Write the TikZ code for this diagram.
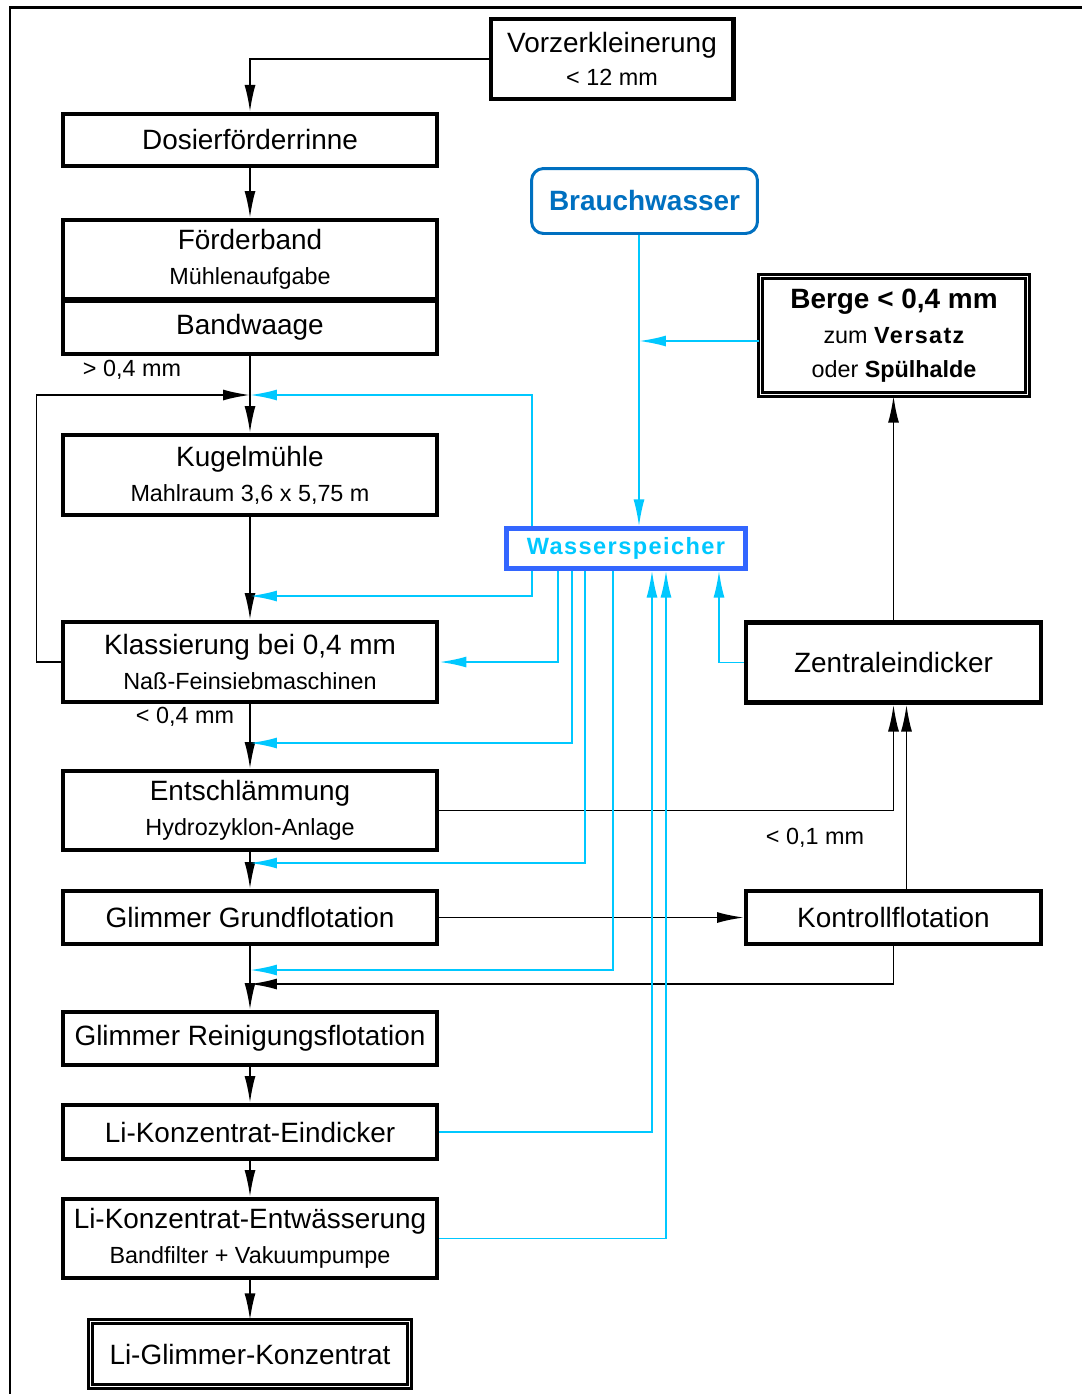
\documentclass[tikz,border=0pt]{standalone}
\usepackage{fontspec}
\setmainfont{Liberation Sans}
\newfontfamily\spacedfont[LetterSpace=6]{Liberation Sans}
\usetikzlibrary{arrows.meta,positioning,calc}
\definecolor{wasserC}{RGB}{0,200,255}
\definecolor{speicherC}{RGB}{51,102,255}
\definecolor{brauchC}{RGB}{0,112,192}
\newcommand{\mainsz}{\fontsize{15.9}{18}\selectfont}
\newcommand{\subsz}{\fontsize{13.3}{15}\selectfont}

\begin{document}
\begin{tikzpicture}[x=0.02cm,y=-0.02cm,
  stage/.style={draw,line width=2.3pt,rectangle,minimum width=7.5cm,
                align=center,font=\mainsz,inner sep=0pt},
  sidebox/.style={stage,minimum width=5.9cm},
  finalbox/.style={draw,double,line width=1.4pt,double distance=1.1pt,
                   align=center,font=\mainsz,inner sep=0pt},
  flow/.style={line width=1.1pt,-{Latex[length=0.54cm,width=0.22cm]}},
  water/.style={wasserC,line width=1.1pt,-{Latex[length=0.54cm,width=0.22cm]}},
  note/.style={font=\subsz}]
  \useasboundingbox (0,0) rectangle (1082,1394);

  % Frame
  \draw[line width=1.7pt] (1082,7) -- (10,7) -- (10,1394);

  % Main line
  \node[stage,minimum width=4.86cm,minimum height=1.6cm] (vorz) at (612,59)
    {Vorzerkleinerung\\[1pt]{\subsz < 12 mm}};
  \node[stage,minimum height=1.04cm] (dosier) at (250,140) {Dosierförderrinne};
  \node[stage,minimum height=1.58cm] (foerder) at (250,259.5)
    {Förderband\\[2pt]{\subsz Mühlenaufgabe}};
  \node[stage,minimum height=1.06cm] (bandw) at (250,327.5) {Bandwaage};
  \node[stage,minimum height=1.6cm] (kugel) at (250,475)
    {Kugelmühle\\[2pt]{\subsz Mahlraum 3,6 x 5,75 m}};
  \node[stage,minimum height=1.6cm] (klass) at (250,662)
    {Klassierung bei 0,4 mm\\[2pt]{\subsz Naß-Feinsiebmaschinen}};
  \node[stage,minimum height=1.58cm] (entsch) at (250,810.5)
    {Entschlämmung\\[2pt]{\subsz Hydrozyklon-Anlage}};
  \node[stage,minimum height=1.06cm] (grund) at (250,917.5) {Glimmer Grundflotation};
  \node[stage,minimum height=1.06cm] (reinig) at (250,1038.5) {Glimmer Reinigungsflotation};
  \node[stage,minimum height=1.08cm] (eindick) at (250,1132) {Li-Konzentrat-Eindicker};
  \node[stage,minimum height=1.58cm] (entw) at (250,1238.5)
    {Li-Konzentrat-Entwässerung\\[2pt]{\subsz Bandfilter + Vakuumpumpe}};
  \node[finalbox,minimum width=6.38cm,minimum height=1.3cm] (konz) at (250,1354)
    {Li-Glimmer-Konzentrat};

  % Water circuit and thickeners
  \node[draw=brauchC,line width=1.7pt,rounded corners=0.24cm,text=brauchC,
        font=\bfseries\mainsz,minimum width=4.52cm,minimum height=1.3cm]
    (brauch) at (644.5,201) {Brauchwasser};
  \node[draw=speicherC,line width=2.4pt,text=wasserC,
        font=\spacedfont\bfseries\fontsize{13.4}{16}\selectfont,
        minimum width=4.78cm,minimum height=0.8cm,inner sep=0pt]
    (wasser) at (626,548.5) {Wasserspeicher};
  \node[finalbox,minimum width=5.34cm,minimum height=2.36cm] (berge) at (894,335.5)
    {\textbf{Berge < 0,4 mm}\\[2pt]
     {\subsz zum {\spacedfont\bfseries Versatz}}\\[1pt]
     {\subsz oder \textbf{Spülhalde}}};
  \node[sidebox,minimum height=1.6cm] (zentral) at (893.5,662.5) {Zentraleindicker};
  \node[sidebox,minimum height=1.06cm] (kontroll) at (893.5,917.5) {Kontrollflotation};

  % Size labels
  \node[note] (grob) at (132,370) {> 0,4 mm};
  \node[note] (fein) at (185,717) {< 0,4 mm};
  \node[note] (schlamm) at (815,838) {< 0,1 mm};

  % Junctions on the main line
  \coordinate (j1) at (250,395);
  \coordinate (j2) at (250,596);
  \coordinate (j3) at (250,743);
  \coordinate (j4) at (250,863);
  \coordinate (j5) at (250,970);
  \coordinate (j6) at (250,984);
  \coordinate (jb) at (639,341);

  % Solids flow
  \draw[flow] (vorz.west) -| (dosier.north);
  \draw[flow] (dosier) -- (foerder);
  \draw[flow] (bandw) -- (kugel);
  \draw[flow] (kugel) -- (klass);
  \draw[flow] (klass) -- (entsch);
  \draw[flow] (entsch) -- (grund);
  \draw[flow] (grund) -- (reinig);
  \draw[flow] (reinig) -- (eindick);
  \draw[flow] (eindick) -- (entw);
  \draw[flow] (entw) -- (konz);
  \draw[flow] (klass.west) -- ++(-24,0) |- (j1);
  \draw[flow] (grund.east) -- (kontroll.west);
  \draw[flow] (entsch.east) -| (zentral.south);
  \draw[flow] ([xshift=0.26cm]kontroll.north) -- ([xshift=0.26cm]zentral.south);
  \draw[flow] (kontroll.south) |- (j6);
  \draw[flow] (zentral.north) -- (zentral.north |- berge.south);

  % Water flow
  \draw[water] ([xshift=-1.88cm]wasser.north) |- (j1);
  \draw[water] (brauch.south -| jb) -- (jb |- wasser.north);
  \draw[water] (berge.west |- jb) -- (jb);
  \foreach \dx/\target in {-1.88/j2,-1.36/klass.east,-1.08/j3,-0.82/j4,-0.26/j5}{
    \draw[water] ([xshift=\dx cm]wasser.south) |- (\target);
  }
  \foreach \src/\dx in {eindick.east/0.52,entw.east/0.8,zentral.west/1.86}{
    \draw[water] (\src) -| ([xshift=\dx cm]wasser.south);
  }
\end{tikzpicture}
\end{document}
